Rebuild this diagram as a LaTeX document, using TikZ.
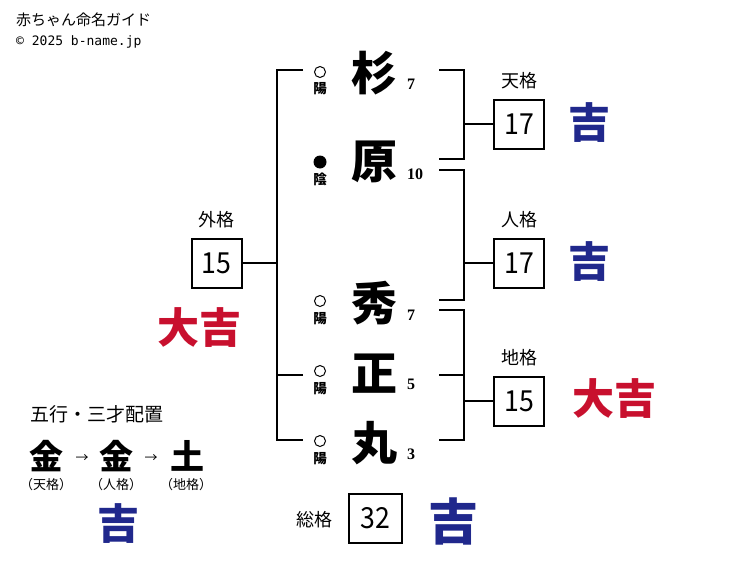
\documentclass[tikz,border=0pt]{standalone}
\usepackage{fontspec}
\setmainfont{Noto Sans CJK JP}
\newfontfamily\jp{Noto Sans CJK JP}
\newfontfamily\jpblack{Noto Sans CJK JP Black}
\newfontfamily\numfont[FakeStretch=0.92]{Noto Sans CJK JP}
\newfontfamily\serifnum{Liberation Serif}
\newfontfamily\monofnt{DejaVu Sans Mono}
\definecolor{kichiblue}{RGB}{32,40,140}
\definecolor{daired}{RGB}{200,16,46}
\tikzset{
  gbox/.style={draw, line width=2pt, minimum width=50pt, minimum height=49pt, inner sep=0pt, font=\numfont\fontsize{29}{29}\selectfont},
  glabel/.style={font=\jp\fontsize{18}{18}\selectfont, inner sep=0pt},
  kanji/.style={font=\jp\bfseries\fontsize{46}{46}\selectfont, inner sep=0pt},
  strokes/.style={font=\serifnum\bfseries\fontsize{16}{16}\selectfont, anchor=west, inner sep=0pt},
  yylabel/.style={font=\jp\bfseries\fontsize{13.5}{13.5}\selectfont, inner sep=0pt},
  yang/.style={circle, draw, line width=1pt, minimum size=11pt, inner sep=0pt},
  yin/.style={circle, fill, minimum size=13pt, inner sep=0pt},
  luckb/.style={font=\jpblack\fontsize{42}{42}\selectfont, text=kichiblue, inner sep=0pt},
  luckr/.style={font=\jpblack\fontsize{42}{42}\selectfont, text=daired, inner sep=0pt},
  bracket/.style={line width=1.3pt},
  gogyo/.style={font=\jp\bfseries\fontsize{34}{34}\selectfont, inner sep=0pt},
  small/.style={font=\jp\fontsize{13}{13}\selectfont, inner sep=0pt},
}
\begin{document}
\begin{tikzpicture}[x=1pt,y=-1pt]
\useasboundingbox (0,0) rectangle (750,562);
% header
\node[anchor=west, font=\jp\fontsize{15}{15}\selectfont, inner sep=0pt] (title) at (16,20) {赤ちゃん命名ガイド};
\node[anchor=west, font=\monofnt\fontsize{13}{13}\selectfont, inner sep=0pt] (copy) at (16,42) {© 2025 b-name.jp};
% name characters
\node[kanji] (c1) at (374,73) {杉};
\node[kanji] (c2) at (374,162) {原};
\node[kanji] (c3) at (374,303) {秀};
\node[kanji] (c4) at (374,374) {正};
\node[kanji] (c5) at (374,443) {丸};
% stroke counts
\node[strokes] (s1) at (407,84) {7};
\node[strokes] (s2) at (407,174) {10};
\node[strokes] (s3) at (407,315) {7};
\node[strokes] (s4) at (407,384) {5};
\node[strokes] (s5) at (407,454) {3};
% yin yang
\node[yang] (m1) at (320,72) {};
\node[yylabel] (y1) at (320,89) {陽};
\node[yin] (m2) at (320,162) {};
\node[yylabel] (y2) at (320,179) {陰};
\node[yang] (m3) at (320,301) {};
\node[yylabel] (y3) at (320,319) {陽};
\node[yang] (m4) at (320,371) {};
\node[yylabel] (y4) at (320,389) {陽};
\node[yang] (m5) at (320,441) {};
\node[yylabel] (y5) at (320,459) {陽};
% boxes
\node[gbox] (ten) at (519,124) {17};
\node[glabel] (tenl) at (519,81) {天格};
\node[gbox] (jin) at (519,263) {17};
\node[glabel] (jinl) at (519,220) {人格};
\node[gbox] (chi) at (519,401) {15};
\node[glabel] (chil) at (519,358) {地格};
\node[gbox] (gai) at (216.5,263) {15};
\node[glabel] (gail) at (216.5,220) {外格};
\node[gbox, minimum width=53pt] (sou) at (375,518.5) {32};
\node[glabel] (soul) at (314,520) {総格};
% fortunes
\node[luckb] (k1) at (589,123) {吉};
\node[luckb] (k2) at (589,262) {吉};
\node[luckr] (k3) at (614,399) {大吉};
\node[luckr] (k4) at (199,328) {大吉};
\node[luckb, font=\jpblack\fontsize{50}{50}\selectfont] (k5) at (453,521) {吉};
\node[luckb] (k6) at (118,524) {吉};
% gogyo
\node[anchor=west, font=\jp\fontsize{19}{19}\selectfont, inner sep=0pt] (gg) at (30,414) {五行・三才配置};
\node[gogyo] (e1) at (46,456) {金};
\node[gogyo] (e2) at (116,456) {金};
\node[gogyo] (e3) at (187,456) {土};
\node[small] (a1) at (82,459) {→};
\node[small] (a2) at (151,459) {→};
\node[small] (p1) at (46,485) {（天格）};
\node[small] (p2) at (116,485) {（人格）};
\node[small] (p3) at (186,485) {（地格）};
% left bracket
\coordinate (l1) at (303,70);
\coordinate (l4) at (303,375);
\coordinate (l5) at (303,440);
\coordinate (lx) at (277,0);
\draw[bracket] (l1) -- (l1 -| lx) -- (l5 -| lx) -- (l5);
\draw[bracket] (l4) -- (l4 -| lx);
\draw[bracket] (gai.east) -- (gai.east -| lx);
% right brackets
\coordinate (rx) at (464,0);
\coordinate (r1a) at (439,70);
\coordinate (r1b) at (439,159);
\draw[bracket] (r1a) -- (r1a -| rx) -- (r1b -| rx) -- (r1b);
\draw[bracket] (ten.west) -- (ten.west -| rx);
\coordinate (r2a) at (439,170);
\coordinate (r2b) at (439,300);
\draw[bracket] (r2a) -- (r2a -| rx) -- (r2b -| rx) -- (r2b);
\draw[bracket] (jin.west) -- (jin.west -| rx);
\coordinate (r3a) at (439,310);
\coordinate (r3m) at (439,375);
\coordinate (r3b) at (439,440);
\draw[bracket] (r3a) -- (r3a -| rx) -- (r3b -| rx) -- (r3b);
\draw[bracket] (r3m) -- (r3m -| rx);
\draw[bracket] (chi.west) -- (chi.west -| rx);
\end{tikzpicture}
\end{document}
